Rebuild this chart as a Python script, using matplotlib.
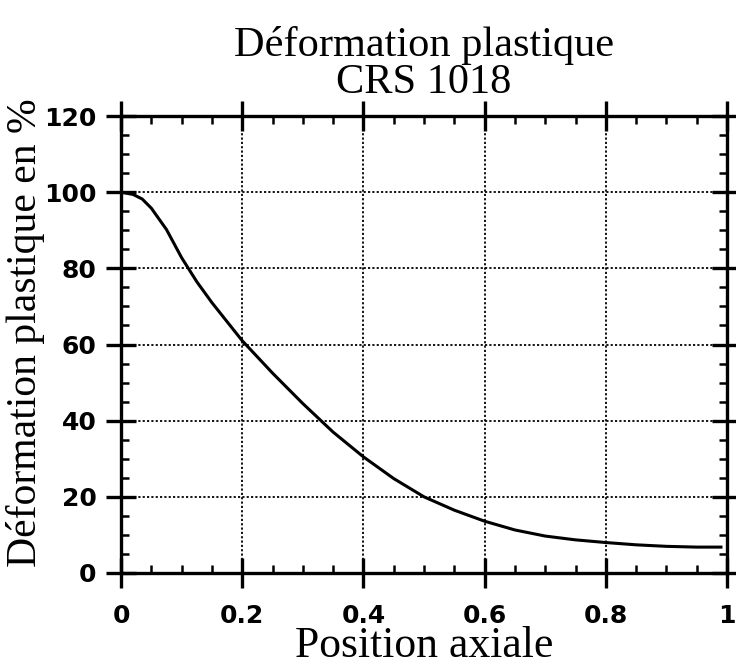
import numpy as np
import matplotlib.pyplot as plt
from matplotlib.ticker import MultipleLocator

# values
position = [0, 0.02, 0.035, 0.05, 0.075, 0.1, 0.125, 0.15, 0.2, 0.25, 0.3,
            0.35, 0.4, 0.45, 0.5, 0.55, 0.6, 0.65, 0.7, 0.75, 0.8, 0.85,
            0.9, 0.95, 0.99]
deformation = [100, 99.4, 98.2, 95.8, 90.2, 82.8, 76.5, 71, 61, 52.5, 44.5,
               37, 30.5, 24.8, 20, 16.5, 13.6, 11.3, 9.7, 8.7, 8.0, 7.4,
               7.0, 6.8, 6.8]

x_ticks = [0, 0.2, 0.4, 0.6, 0.8, 1]
x_labels = ['0', '0.2', '0.4', '0.6', '0.8', '1']
y_ticks = [0, 20, 40, 60, 80, 100, 120]

serif = ['Liberation Serif', 'DejaVu Serif']
sans = ['DejaVu Sans']

fig = plt.figure(figsize=(7.36, 6.66), dpi=100)
ax = fig.add_axes([121 / 736, 93 / 666, 606 / 736, 457 / 666])

ax.plot(position, deformation, color='black', lw=2.2)

ax.set_xlim(0, 1)
ax.set_ylim(0, 120)
ax.set_xticks(x_ticks)
ax.set_xticklabels(x_labels)
ax.set_yticks(y_ticks)
ax.xaxis.set_minor_locator(MultipleLocator(0.05))
ax.yaxis.set_minor_locator(MultipleLocator(5))

ax.grid(True, which='major', linestyle=(0, (1.2, 1.2)), color='black', lw=1.3)
ax.tick_params(which='major', direction='inout', length=21, width=2.4,
               top=True, right=True)
ax.tick_params(axis='x', which='major', pad=12)
ax.tick_params(axis='y', which='major', pad=7)
ax.tick_params(which='minor', direction='in', length=6, width=1.8,
               top=True, right=True)
for lbl in ax.get_xticklabels() + ax.get_yticklabels():
    lbl.set_family(sans)
    lbl.set_fontweight('bold')
    lbl.set_fontsize(18)
for s in ax.spines.values():
    s.set_linewidth(2.4)

ax.set_xlabel('Position axiale', family=serif, fontsize=31.5)
ax.xaxis.set_label_coords(0.5, -0.115)
ax.set_ylabel('Déformation plastique en %', family=serif, fontsize=30)
ax.yaxis.set_label_coords(-0.125, 0.525)
ax.set_title('Déformation plastique\nCRS 1018', family=serif, fontsize=30.5,
             linespacing=0.95, pad=16.5)

fig.savefig('out.png', dpi=100)
